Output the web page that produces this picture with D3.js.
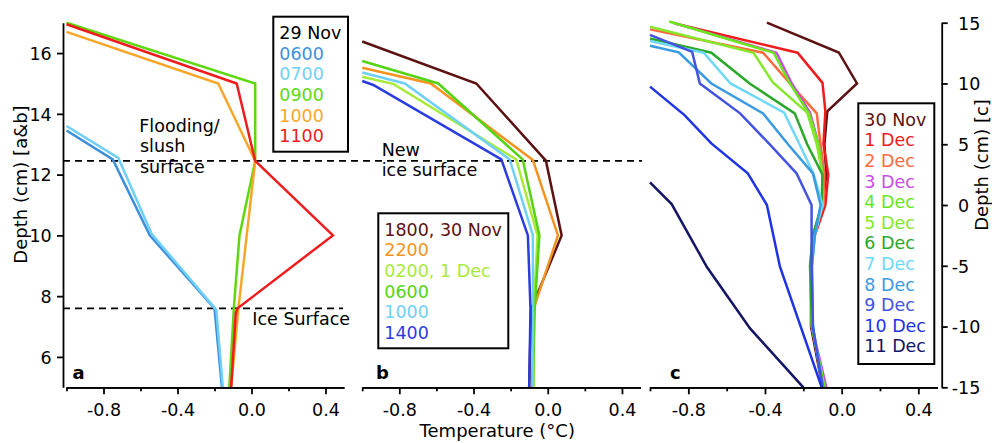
<!DOCTYPE html>
<html>
<head>
<meta charset="utf-8">
<script src="https://cdn.jsdelivr.net/npm/d3@7.9.0/dist/d3.min.js"></script>
<style>
  body { margin: 0; background: #fff; }
  svg { display: block; font-family: "DejaVu Sans", sans-serif; }
</style>
</head>
<body>
<svg id="chart" width="992" height="443"></svg>
<script>
// ---- data: [temperature (°C), depth (cm)] ----
const panelALabels = ['0600', '0700', '0900', '1000', '1100'];
const panelAProfiles = [
  [[-1.0, 13.45], [-0.75, 12.5], [-0.55, 10.0], [-0.2, 7.6], [-0.16, 5.0]],
  [[-1.0, 13.6], [-0.72, 12.55], [-0.54, 10.05], [-0.19, 7.55], [-0.155, 5.0]],
  [[-1.0, 17.0], [0.02, 15.0], [0.02, 12.45], [-0.065, 10.0], [-0.095, 7.65], [-0.12, 5.0]],
  [[-1.0, 16.7], [-0.18, 15.0], [0.02, 12.45], [-0.07, 7.65], [-0.11, 5.0]],
  [[-1.0, 16.95], [-0.08, 15.0], [0.02, 12.45], [0.44, 10.0], [-0.075, 7.6], [-0.085, 7.45], [-0.11, 5.0]]
];

const panelBLabels = ['1800, 30 Nov', '2200', '0200, 1 Dec', '0600', '1000', '1400'];
const panelBProfiles = [
  [[-1.0, 16.38], [-0.385, 15.0], [-0.01, 12.46], [0.075, 10.0], [-0.09, 7.57], [-0.1, 5.0]],
  [[-1.0, 15.52], [-0.63, 15.0], [-0.08, 12.48], [0.055, 10.0], [-0.075, 7.6], [-0.085, 5.0]],
  [[-1.0, 15.22], [-0.83, 14.98], [-0.17, 12.5], [-0.055, 10.0], [-0.075, 7.6], [-0.075, 5.0]],
  [[-1.0, 15.74], [-0.59, 15.0], [-0.135, 12.5], [-0.045, 10.0], [-0.07, 7.6], [-0.08, 5.0]],
  [[-1.0, 15.36], [-0.77, 15.0], [-0.205, 12.5], [-0.08, 10.0], [-0.08, 7.6], [-0.08, 5.0]],
  [[-1.0, 15.08], [-0.94, 14.95], [-0.25, 12.5], [-0.107, 10.0], [-0.093, 7.6], [-0.1, 5.0]]
];

const panelCLabels = ['30 Nov', '1 Dec', '2 Dec', '3 Dec', '4 Dec', '5 Dec',
                      '6 Dec', '7 Dec', '8 Dec', '9 Dec', '10 Dec', '11 Dec'];
const panelCProfiles = [
  [[-0.39, 15.0], [-0.015, 12.55], [0.08, 10.0], [-0.075, 7.7], [-0.09, 5.0], [-0.08, 2.5], [-0.1, 0], [-0.15, -2.5], [-0.16, -5], [-0.16, -10], [-0.1, -15]],
  [[-0.86, 14.9], [-0.23, 12.53], [-0.1, 10.05], [-0.085, 7.7], [-0.095, 5.0], [-0.07, 2.5], [-0.085, 0], [-0.14, -2.5], [-0.16, -5], [-0.155, -10], [-0.095, -15]],
  [[-1.0, 14.45], [-0.41, 12.53], [-0.27, 10.0], [-0.13, 7.54], [-0.11, 5.0], [-0.09, 2.5], [-0.095, 0], [-0.15, -2.5], [-0.16, -5], [-0.155, -10], [-0.09, -15]],
  [[-0.88, 15.0], [-0.34, 12.53], [-0.26, 10.0], [-0.165, 7.6], [-0.12, 5.0], [-0.1, 2.5], [-0.1, 0], [-0.15, -2.5], [-0.16, -5], [-0.155, -10], [-0.08, -15]],
  [[-0.9, 15.1], [-0.355, 12.53], [-0.27, 10.0], [-0.17, 7.5], [-0.12, 5.0], [-0.1, 2.5], [-0.1, 0], [-0.15, -2.5], [-0.16, -5], [-0.155, -10], [-0.09, -15]],
  [[-1.0, 14.67], [-0.46, 12.53], [-0.36, 10.1], [-0.18, 7.6], [-0.13, 5.0], [-0.1, 2.5], [-0.1, 0], [-0.15, -2.5], [-0.165, -5], [-0.155, -10], [-0.09, -15]],
  [[-1.0, 13.7], [-0.68, 12.53], [-0.48, 10.0], [-0.245, 7.54], [-0.18, 5.0], [-0.1, 2.5], [-0.105, 0], [-0.15, -2.5], [-0.165, -5], [-0.155, -10], [-0.095, -15]],
  [[-1.0, 13.5], [-0.72, 12.53], [-0.58, 10.0], [-0.3, 7.6], [-0.22, 5.0], [-0.145, 2.5], [-0.1, 0], [-0.14, -2.5], [-0.155, -5], [-0.15, -10], [-0.1, -15]],
  [[-1.0, 13.1], [-0.85, 12.56], [-0.68, 10.0], [-0.41, 7.54], [-0.28, 5.0], [-0.15, 2.6], [-0.11, 0], [-0.14, -2.5], [-0.155, -5], [-0.15, -10], [-0.1, -15]],
  [[-1.0, 14.0], [-0.78, 12.6], [-0.74, 10.0], [-0.53, 7.54], [-0.38, 5.07], [-0.235, 2.6], [-0.157, 0], [-0.157, -5], [-0.15, -10], [-0.1, -15]],
  [[-1.0, 9.74], [-0.82, 7.4], [-0.68, 5.07], [-0.49, 2.6], [-0.39, 0], [-0.322, -5.08], [-0.104, -15]],
  [[-1.0, 1.86], [-0.887, 0.08], [-0.704, -5.08], [-0.478, -10.15], [-0.2, -15]]
];

const tempTicksMajor = [-0.8, -0.4, 0, 0.4];
const tempTicksMinor = [-1.0, -0.6, -0.2, 0.2];
const depthTicksAB = [6, 8, 10, 12, 14, 16];
const depthTicksC = [-15, -10, -5, 0, 5, 10, 15];
const floodSurfaceDepth = 12.45;
const iceSurfaceDepth = 7.6;

// ---- styles ----
const panelAColors = ['#3d8fdc', '#6fd0f7', '#5fd80f', '#f7a62a', '#ee1c1c'];
const panelBColors = ['#5c1212', '#f49420', '#a8ea3a', '#55d315', '#6fd0f7', '#2a3ce0'];
const panelCColors = ['#5c1212', '#ee1c1c', '#ff6a3d', '#c94be6', '#6ae61a', '#86e82c',
                      '#2aa82a', '#6fd8f7', '#3a9ae0', '#4452e0', '#1f33e6', '#151566'];

const svg = d3.select('#chart');
const FS = 17.5;
const axisY = 387.3;

const yAB = d3.scaleLinear().domain([5, 17]).range([axisY, 22.7]);
const yC  = d3.scaleLinear().domain([-15, 15]).range([axisY, 22.7]);
const xA = d3.scaleLinear().domain([-1, 0.5]).range([66.5, 344]);
const xB = d3.scaleLinear().domain([-1, 0.5]).range([362.2, 640.5]);
const xC = d3.scaleLinear().domain([-1, 0.5]).range([650, 937.5]);

function styleAxis(g) {
  g.attr('font-family', null).attr('font-size', FS);
  g.selectAll('path, line').attr('stroke', '#000').attr('stroke-width', 1.8);
  g.selectAll('text').attr('fill', '#000');
}

function tempAxis(x) {
  svg.append('g')
    .attr('transform', `translate(0,${axisY})`)
    .call(d3.axisBottom(x).tickValues(tempTicksMinor).tickSize(4).tickSizeOuter(0).tickFormat(''))
    .call(styleAxis);
  svg.append('g')
    .attr('transform', `translate(0,${axisY})`)
    .call(d3.axisBottom(x).tickValues(tempTicksMajor).tickSize(7).tickSizeOuter(0)
      .tickFormat(d => d.toFixed(1)))
    .call(styleAxis)
    .call(g => g.selectAll('text').attr('y', 28.7).attr('dy', 0));
}

function drawProfiles(x, y, profiles, colors) {
  const line = d3.line().x(d => x(d[0])).y(d => y(d[1]));
  svg.append('g')
    .selectAll('path')
    .data(profiles)
    .join('path')
      .attr('d', line)
      .attr('fill', 'none')
      .attr('stroke', (d, i) => colors[i])
      .attr('stroke-width', 2.5)
      .attr('stroke-linejoin', 'miter');
}

function legend(x0, y0, w, h, title, labels, colors) {
  const g = svg.append('g');
  g.append('rect')
    .attr('x', x0).attr('y', y0).attr('width', w).attr('height', h)
    .attr('fill', '#fff').attr('stroke', '#000').attr('stroke-width', 2);
  const rows = title ? [title, ...labels] : labels;
  const cols = title ? ['#000', ...colors] : colors;
  g.selectAll('text')
    .data(rows)
    .join('text')
      .attr('x', x0 + 6)
      .attr('y', (d, i) => y0 + 22.5 + i * 20.6)
      .attr('font-size', FS)
      .attr('fill', (d, i) => cols[i])
      .text(d => d);
}

// ---- surfaces ----
svg.append('line')
  .attr('x1', 63).attr('x2', 642)
  .attr('y1', yAB(floodSurfaceDepth)).attr('y2', yAB(floodSurfaceDepth))
  .attr('stroke', '#000').attr('stroke-width', 1.8).attr('stroke-dasharray', '7,5');
svg.append('line')
  .attr('x1', 63).attr('x2', 343)
  .attr('y1', yAB(iceSurfaceDepth)).attr('y2', yAB(iceSurfaceDepth))
  .attr('stroke', '#000').attr('stroke-width', 1.8).attr('stroke-dasharray', '7,5');

// ---- profiles ----
drawProfiles(xA, yAB, panelAProfiles, panelAColors);
drawProfiles(xB, yAB, panelBProfiles, panelBColors);
drawProfiles(xC, yC, panelCProfiles, panelCColors);

// ---- axes ----
tempAxis(xA);
tempAxis(xB);
tempAxis(xC);

svg.append('g')
  .attr('transform', 'translate(63,0)')
  .call(d3.axisLeft(yAB).tickValues(depthTicksAB).tickSize(6).tickSizeOuter(0))
  .call(styleAxis)
  .call(g => g.selectAll('text').attr('x', -11.3).attr('dy', '0.36em'));

svg.append('g')
  .attr('transform', 'translate(941.7,0)')
  .call(d3.axisRight(yC).tickValues(depthTicksC).tickSize(6).tickSizeOuter(0)
    .tickFormat(d => String(d)))
  .call(styleAxis)
  .call(g => g.selectAll('text').attr('x', d => d < 0 ? 10 : 16.3).attr('dy', '0.36em'));

// ---- titles ----
svg.append('text')
  .attr('x', 497.3).attr('y', 436.5)
  .attr('text-anchor', 'middle').attr('font-size', 18)
  .text('Temperature (°C)');
svg.append('text')
  .attr('transform', 'translate(27,184.5) rotate(-90)')
  .attr('text-anchor', 'middle').attr('font-size', 18)
  .text('Depth (cm) [a&b]');
svg.append('text')
  .attr('transform', 'translate(988,165) rotate(-90)')
  .attr('text-anchor', 'middle').attr('font-size', 18)
  .text('Depth (cm) [c]');

// panel letters
[['a', 72.5], ['b', 376], ['c', 670]].forEach(([t, x]) => {
  svg.append('text').attr('x', x).attr('y', 379)
    .attr('font-size', 18).attr('font-weight', 'bold').text(t);
});

// annotations
const notes = [
  ['Flooding/', 139.3, 131.7],
  ['slush', 140, 151.7],
  ['surface', 140, 172.7],
  ['New', 381.7, 155.7],
  ['ice surface', 381.7, 175.7],
  ['Ice Surface', 252.3, 325]
];
svg.append('g')
  .selectAll('text')
  .data(notes)
  .join('text')
    .attr('x', d => d[1]).attr('y', d => d[2])
    .attr('font-size', FS)
    .text(d => d[0]);

// ---- legends ----
legend(273.3, 16.7, 74.7, 135, '29 Nov', panelALabels, panelAColors);
legend(378.3, 213.3, 130, 135, null, panelBLabels, panelBColors);
legend(858.3, 103.3, 76, 260.7, null, panelCLabels, panelCColors);
</script>
</body>
</html>
